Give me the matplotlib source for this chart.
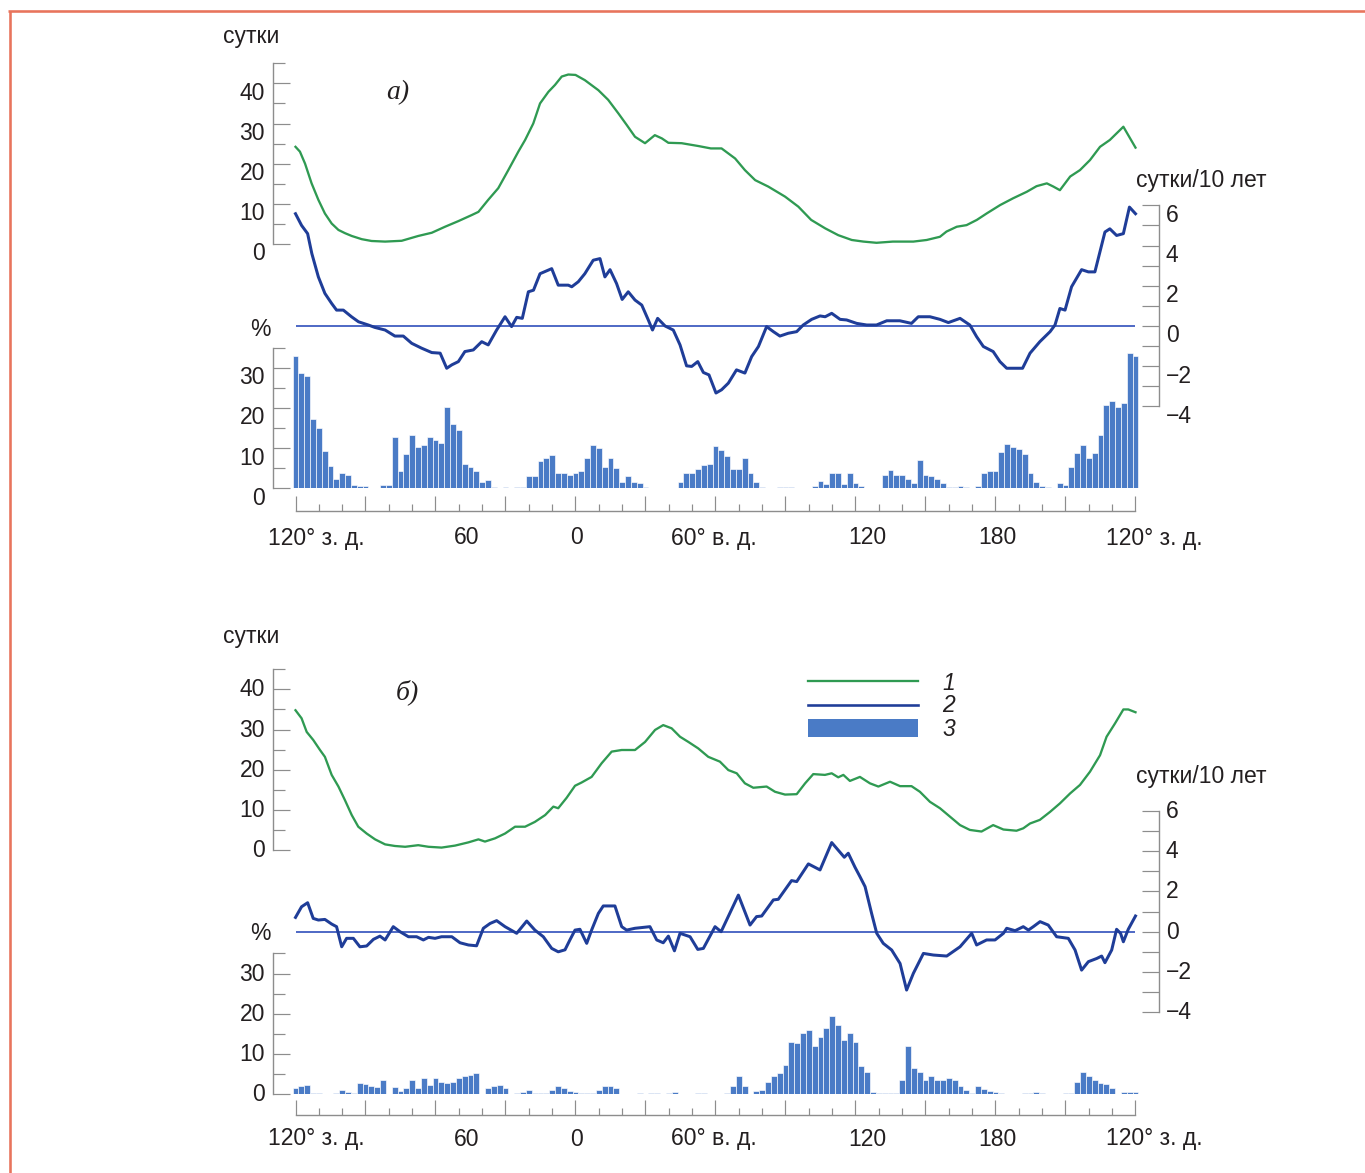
import numpy as np
import matplotlib
matplotlib.use('Agg')
import matplotlib.pyplot as plt
from matplotlib.lines import Line2D
from matplotlib.patches import Rectangle
from matplotlib.transforms import ScaledTranslation, blended_transform_factory

plt.rcParams['font.family'] = ['Liberation Sans', 'DejaVu Sans']

# ---------------- data ----------------
# longitude measured eastward from 120° W (-120) to 120° W again (240)
bar_lon = np.arange(-120, 240.1, 2.5)

green_a_lon = [-120, -118.1, -115.9, -113.1, -110.2, -107.4, -104.5, -101.6, -98.8, -95.9, -91.6, -87.4,
               -81.6, -74.5, -67.4, -61.6, -55.9, -50.2, -44.5, -41.6, -37.4, -33.1, -28.8, -24.5,
               -21.6, -18.1, -15.2, -11.6, -8.8, -5.9, -3.1, 0, 4, 9.8, 14, 18.4, 22, 25.5, 29.8,
               34, 37, 39.8, 45.5, 52.6, 58, 62.6, 68.4, 72.6, 77, 82.6, 89.8, 95.5, 101, 107,
               112.6, 118.4, 123.4, 129, 136, 144.8, 150.5, 156.2, 159, 163.4, 167.6, 172, 176.2,
               182, 187.6, 193.4, 197.6, 202, 204.8, 207.6, 212, 216.2, 220.5, 224.8, 229, 234.8,
               238, 240]
green_a_val = [24.2, 23.0, 20.0, 15.1, 11.0, 7.6, 5.1, 3.5, 2.7, 2.0, 1.2, 0.75,
               0.6, 0.8, 2.0, 2.8, 4.3, 5.7, 7.2, 8.0, 11.0, 13.9, 18.4, 23.0,
               25.9, 30.0, 35.0, 37.9, 39.6, 41.7, 42.2, 42.1, 40.8, 38.3, 35.9, 32.5, 29.6, 26.7, 25.1,
               27.1, 26.3, 25.2, 25.1, 24.4, 23.8, 23.8, 21.3, 18.4, 15.9, 14.3, 11.8, 9.3, 6.0, 3.9,
               2.2, 1.0, 0.6, 0.3, 0.6, 0.6, 1.0, 1.8, 3.1, 4.3, 4.7, 6.0, 7.6,
               9.7, 11.4, 13.0, 14.4, 15.1, 14.3, 13.4, 16.8, 18.4, 20.9, 24.2, 25.9, 29.2,
               26.0, 24.0]

blue_a_lon = [-120, -117.4, -114.8, -113, -110.2, -107.4, -104.5, -102.4, -99.5, -96, -93, -88.8,
              -86, -81.6, -77.4, -73.8, -70.2, -66, -61.6, -58, -55.2, -53, -50.2, -47.4, -43.8,
              -40.2, -37.4, -33.8, -30.2, -27.4, -25.2, -22.8, -20.2, -18, -15.2, -10.2, -7.4, -3.1,
              -1.6, 1.2, 4, 7.6, 10.5, 12.6, 14.8, 17.6, 20, 22.6, 25.5, 28.4, 31.2, 33, 35.2, 38.4,
              41.9, 44.8, 47.6, 49.8, 52.4, 54.8, 57.2, 60.2, 62.6, 65.5, 69, 72.6, 75.5, 78.4,
              81.9, 84.8, 87.6, 91.2, 94.8, 97.6, 101.2, 104.8, 107, 109.8, 113.4, 116.2,
              120.5, 124.8, 129, 133.4, 139, 144, 146.9, 151.9, 156.2, 159.8, 164.8, 169, 171.9,
              174.8, 179, 181.9, 184.8, 189, 191.6, 194.8, 199, 203.4, 205.5, 207.6, 209.8, 212.6,
              216.9, 219.8, 222.6, 226.9, 229, 231.9, 234.8, 237.4, 240]
blue_a_val = [5.58, 5.0, 4.59, 3.6, 2.44, 1.62, 1.12, 0.79, 0.79, 0.46, 0.21, 0.05,
              -0.07, -0.2, -0.5, -0.5, -0.86, -1.1, -1.32, -1.35, -2.1, -1.93, -1.77, -1.27, -1.19,
              -0.78, -0.94, -0.2, 0.46, -0.03, 0.43, 0.38, 1.7, 1.78, 2.6, 2.85, 2.03, 2.03,
              1.95, 2.2, 2.6, 3.27, 3.35, 2.44, 2.8, 2.11, 1.32, 1.7, 1.29, 1.04, 0.3, -0.2, 0.38, 0.0,
              -0.2, -0.94, -1.98, -2.01, -1.77, -2.31, -2.43, -3.33, -3.17, -2.84, -2.18, -2.34, -1.52, -1.02,
              -0.03, -0.28, -0.5, -0.36, -0.28, 0.05, 0.33, 0.5, 0.46, 0.63, 0.33, 0.3,
              0.13, 0.05, 0.05, 0.26, 0.26, 0.13, 0.46, 0.46, 0.33, 0.17, 0.38, 0.05, -0.53,
              -1.02, -1.27, -1.77, -2.1, -2.1, -2.1, -1.35, -0.78, -0.28, 0.05, 0.87, 0.79, 1.95,
              2.8, 2.69, 2.69, 4.67, 4.83, 4.5, 4.59, 5.91, 5.58]

bars_a = [32.9, 28.7, 27.9, 17.3, 14.9, 9.3, 5.5, 2.4, 3.9, 3.4, 0.7, 0.6,
          0.6, 0.1, 0.0, 0.8, 0.8, 12.8, 4.3, 8.6, 13.2, 10.3, 10.7, 12.8,
          12.1, 11.3, 20.2, 15.9, 14.4, 6.1, 5.3, 4.3, 1.6, 2.0, 0.2, 0.0,
          0.2, 0.0, 0.2, 0.2, 3.0, 3.0, 6.7, 7.6, 8.2, 3.8, 3.7, 3.2,
          3.8, 4.3, 7.6, 10.7, 10.0, 5.3, 7.6, 5.1, 1.6, 3.0, 1.6, 1.4,
          0.4, 0.15, 0.0, 0.0, 0.0, 0.1, 1.6, 3.8, 3.7, 4.9, 5.7, 6.0,
          10.5, 9.5, 8.0, 4.9, 4.9, 7.6, 3.7, 1.6, 0.2, 0.0, 0.0, 0.2,
          0.2, 0.2, 0.1, 0.0, 0.05, 0.5, 1.8, 1.0, 3.8, 3.8, 1.0, 3.8,
          1.2, 0.5, 0.1, 0.0, 0.0, 3.2, 4.6, 3.4, 3.4, 2.2, 1.3, 7.1,
          3.4, 3.0, 2.2, 1.3, 0.2, 0.2, 0.5, 0.2, 0.0, 0.5, 3.8, 4.3,
          4.3, 9.0, 11.0, 10.3, 9.9, 8.6, 3.7, 1.6, 0.6, 0.2, 0.0, 1.2,
          0.9, 5.3, 8.8, 10.7, 7.6, 8.8, 13.2, 20.7, 21.7, 20.2, 21.2, 33.7,
          32.9]

green_b_lon = [-120, -117.4, -115.2, -112.4, -109.5, -107.4, -104.5, -101.6, -98.8, -95.9, -93.1, -89.5,
               -85.9, -81.6, -77.4, -73, -67.4, -63, -57.4, -51.6, -45.9, -41.6, -38.8, -34.5, -30.2,
               -25.9, -21.6, -17.4, -13, -9.5, -7.4, -3.8, -0.2, 2.6, 6.9, 11.2, 15.5, 19.8, 25.5,
               29.8, 34.1, 37.6, 41.2, 44.8, 48.4, 52.6, 56.9, 61.9, 65.5, 69.1, 72.6, 76.2, 81.9,
               85.5, 89.8, 94.8, 98.4, 101.9, 106.9, 109.8, 112.6, 114.8, 117.6, 121.9, 126.2, 129.8,
               134.8, 139.1, 144, 147.6, 151.9, 156.2, 160.5, 164.8, 169, 174, 179, 183.4, 189,
               191.9, 194.8, 199, 203.4, 207.6, 212, 216.2, 220.5, 224.8, 227.6, 231.2, 234.8,
               236.9, 240]
green_b_val = [34.8, 32.8, 29.4, 27.4, 24.9, 23.2, 18.7, 15.8, 12.4, 8.7, 5.8, 4.1,
               2.65, 1.4, 1.0, 0.8, 1.2, 0.8, 0.6, 1.1, 1.9, 2.65, 2.1, 2.9, 4.1,
               5.8, 5.8, 7.0, 8.7, 10.8, 10.4, 13.0, 16.0, 16.8, 18.2, 21.6, 24.5, 24.9, 24.9,
               26.9, 29.9, 31.1, 30.3, 28.2, 26.9, 25.3, 23.2, 22.0, 19.9, 19.1, 16.6, 15.5, 15.8,
               14.5, 13.8, 13.9, 16.6, 18.9, 18.7, 19.1, 18.1, 18.7, 17.2, 18.2, 16.6, 15.8,
               17.0, 15.9, 15.9, 14.5, 12.0, 10.4, 8.3, 6.2, 5.0, 4.6, 6.2, 5.1, 4.8,
               5.4, 6.6, 7.5, 9.5, 11.6, 14.1, 16.2, 19.5, 23.6, 28.2, 31.5, 35.0,
               35.0, 34.3]

blue_b_lon = [-120, -117.4, -114.8, -112.4, -110.2, -107.4, -104.5, -102.4, -100.2, -98.1, -95.2, -92.4,
              -89.5, -86.6, -83.8, -81.6, -78.1, -75.2, -71.6, -68.1, -65.2, -63, -60.2, -57.4, -53,
              -49.5, -45.9, -42.4, -39.5, -36.6, -33.8, -30.2, -25.2, -20.9, -17.4, -13.8, -10.2,
              -7.4, -4.5, -2.4, -0.2, 1.9, 4.8, 6.9, 9.8, 11.9, 16.9, 19.8, 21.9, 25.5, 31.9, 34.8,
              37.6, 39.8, 42.4, 44.8, 49.1, 52.4, 54.8, 59.8, 62.4, 69.8, 74.8, 77.6, 79.8, 84.8,
              86.9, 92.6, 94.8, 99.8, 104.8, 109.8, 115.2, 116.9, 119.8, 121.9, 124.1, 126.9,
              129.1, 131.9, 135.5, 139.1, 141.9, 144.8, 149.1, 153.4, 159.1, 164.8, 169.8, 171.9,
              176.2, 179.8, 183.4, 184.8, 188.4, 191.9, 194.1, 196.2, 199.1, 202.6, 206.2, 211.2,
              214.1, 216.9, 219.8, 223.4, 225.5, 226.9, 229.8, 231.9, 233.6, 234.8, 236.9, 240]
blue_b_val = [0.71, 1.24, 1.44, 0.66, 0.58, 0.61, 0.38, 0.25, -0.75, -0.33, -0.33, -0.75,
              -0.71, -0.38, -0.22, -0.41, 0.25, 0.0, -0.25, -0.25, -0.41, -0.28, -0.33, -0.25, -0.25,
              -0.55, -0.66, -0.7, 0.17, 0.41, 0.55, 0.25, -0.08, 0.53, 0.08, -0.25, -0.83,
              -1.0, -0.9, -0.41, 0.08, 0.12, -0.58, 0.08, 0.91, 1.28, 1.28, 0.25, 0.08, 0.17, 0.25, -0.41,
              -0.55, -0.22, -0.95, -0.08, -0.25, -0.88, -0.83, 0.25, 0.0, 1.82, 0.33, 0.75, 0.78, 1.58,
              1.61, 2.54, 2.49, 3.37, 3.07, 4.43, 3.7, 3.9, 3.2, 2.74, 2.24, 0.91,
              -0.08, -0.58, -0.91, -1.58, -2.9, -2.07, -1.08, -1.16, -1.21, -0.75, -0.08, -0.66,
              -0.41, -0.41, -0.08, 0.17, 0.05, 0.25, 0.08, 0.25, 0.5, 0.33, -0.25, -0.33,
              -0.91, -1.91, -1.49, -1.33, -1.21, -1.54, -0.91, 0.12, -0.08, -0.5, 0.12, 0.78]

bars_b = [1.5, 2.1, 2.3, 0.2, 0.2, 0.1, 0.1, 0.2, 1.1, 0.4, 0.3, 2.7,
          2.6, 1.9, 1.7, 3.4, 0.1, 1.7, 0.7, 1.5, 3.4, 1.5, 4.0, 2.3,
          4.0, 2.9, 2.7, 2.9, 4.0, 4.6, 4.8, 5.2, 0.0, 1.5, 1.9, 2.3,
          1.5, 0.1, 0.2, 0.4, 0.9, 0.2, 0.2, 0.3, 1.1, 2.1, 1.5, 0.7,
          0.4, 0.2, 0.3, 0.2, 1.1, 1.9, 1.9, 1.5, 0.1, 0.1, 0.0, 0.2,
          0.1, 0.2, 0.2, 0.1, 0.3, 0.4, 0.1, 0.0, 0.1, 0.2, 0.3, 0.1,
          0.1, 0.0, 0.2, 1.9, 4.4, 2.1, 0.1, 0.7, 1.1, 2.9, 4.4, 5.2,
          7.3, 12.9, 12.7, 15.3, 16.0, 11.9, 14.3, 16.4, 19.5, 17.2, 13.5, 15.3,
          13.0, 7.0, 5.6, 0.4, 0.2, 0.2, 0.2, 0.3, 3.4, 11.9, 6.5, 5.6,
          3.4, 4.4, 3.4, 3.4, 4.0, 3.4, 1.9, 1.1, 0.2, 2.1, 1.2, 0.7,
          0.4, 0.2, 0.1, 0.1, 0.1, 0.2, 0.3, 0.4, 0.2, 0.1, 0.1, 0.1,
          0.2, 0.3, 2.9, 5.6, 4.4, 3.4, 2.7, 2.6, 1.5, 0.1, 0.4, 0.4,
          0.5]

green_ticks = [0, 10, 20, 30, 40]
blue_ticks = [-4, -2, 0, 2, 4, 6]
bar_ticks = [0, 10, 20, 30]
x_labels = ["120° з. д.", "60", "0", "60° в. д.", "120", "180", "120° з. д."]
x_label_pos = [-111.2, -46.5, 0.6, 59.4, 124.9, 180.6, 247.9]
legend_labels = ["1", "2", "3"]

# ---------------- layout helpers ----------------
W, H, DPI = 1365, 1173, 100
fig = plt.figure(figsize=(W / DPI, H / DPI), dpi=DPI)
fig.patch.set_facecolor('white')


def fx(px):
    return px / W


def fy(py):
    return 1 - py / H


def pt(px):
    return px * 72.0 / DPI


GREEN = '#2f9a52'
BLUE = '#1f3d98'
ZERO = '#3f5cc0'
BARC = '#4a7bc6'
GRAY = '#8d8d8d'
TXT = '#231f20'
FS = 16.5

X_LEFT, X_RIGHT = 273, 1159
LON0_PX, LON1_PX = 295.5, 1135.5
PXDEG = (LON1_PX - LON0_PX) / 360.0
XMIN = -120 - (LON0_PX - X_LEFT) / PXDEG
XMAX = 240 + (X_RIGHT - LON1_PX) / PXDEG
GPX = 4.016   # px per unit, day axis and % axis
BPX = 20.12   # px per unit, trend axis


def make_axes(top_px, bottom_px):
    ax = fig.add_axes([fx(X_LEFT), fy(bottom_px), fx(X_RIGHT) - fx(X_LEFT), (bottom_px - top_px) / H])
    ax.set_xlim(XMIN, XMAX)
    ax.patch.set_visible(False)
    for s in ax.spines.values():
        s.set_visible(False)
    ax.set_xticks([])
    ax.tick_params(left=False, right=False, labelleft=False, labelright=False,
                   bottom=False, labelbottom=False)
    return ax


def ylabels(ax, ticks, side, dy, fmt):
    tr = ax.get_yaxis_transform() + ScaledTranslation(0, dy / DPI, fig.dpi_scale_trans)
    if side == 'left':
        xa, ha = (265 - X_LEFT) / (X_RIGHT - X_LEFT), 'right'
    else:
        xa, ha = (1166 - X_LEFT) / (X_RIGHT - X_LEFT), 'left'
    for t in ticks:
        ax.text(xa, t, fmt(t), transform=tr, ha=ha, va='center', fontsize=FS, color=TXT)


def style_yaxis(ax, side, major, minor, lmaj, lmin, lo, hi):
    ax.spines[side].set_visible(True)
    ax.spines[side].set_color(GRAY)
    ax.spines[side].set_linewidth(pt(1.4))
    ax.spines[side].set_bounds(lo, hi)
    ax.set_yticks(major)
    ax.set_yticks(minor, minor=True)
    kw = dict(direction='in', color=GRAY, width=pt(1.2),
              left=(side == 'left'), right=(side == 'right'),
              labelleft=False, labelright=False)
    ax.tick_params(axis='y', which='major', length=pt(lmaj), **kw)
    ax.tick_params(axis='y', which='minor', length=pt(lmin), **kw)


def fmt_int(v):
    return str(v) if v >= 0 else '\u2212' + str(-v)


def panel(g0, b0, h0, xaxis_px, dy, gl, gv, bl, bv, bars, title, title_xy,
          lab_sut, lab_pct, lab_trend, xlab_y):
    # bars (% axis)
    axh = make_axes(h0 - 35 * GPX, h0)
    axh.set_ylim(0, 35)
    axh.bar(bar_lon, bars, width=2.5, color=BARC, edgecolor='white', linewidth=0.45, zorder=2)
    style_yaxis(axh, 'left', bar_ticks, [5, 15, 25, 35], 17, 12, 0, 35)
    ylabels(axh, bar_ticks, 'left', dy, fmt_int)
    axh.spines['bottom'].set_visible(True)
    axh.spines['bottom'].set_color(GRAY)
    axh.spines['bottom'].set_linewidth(pt(1.4))
    axh.spines['bottom'].set_position(('outward', pt(xaxis_px - h0)))
    axh.spines['bottom'].set_bounds(bar_lon[0], bar_lon[-1])
    axh.set_xticks(np.arange(bar_lon[0], bar_lon[-1] + 1, 30))
    axh.set_xticks(np.arange(bar_lon[0], bar_lon[-1] + 1, 10), minor=True)
    axh.tick_params(axis='x', which='major', direction='in', length=pt(14.7), width=pt(1.2),
                    color=GRAY, bottom=True, labelbottom=False)
    axh.tick_params(axis='x', which='minor', direction='in', length=pt(6.7), width=pt(1.2),
                    color=GRAY, bottom=True, labelbottom=False)
    trx = blended_transform_factory(axh.transData, fig.transFigure)
    for lab, lon in zip(x_labels, x_label_pos):
        axh.text(lon, fy(xlab_y), lab, transform=trx, ha='center', va='center',
                 fontsize=FS, color=TXT)

    # green (days)
    axg = make_axes(g0 - 45 * GPX, g0)
    axg.set_ylim(0, 45)
    axg.plot(gl, gv, color=GREEN, lw=pt(2.3), solid_joinstyle='round', zorder=3)
    style_yaxis(axg, 'left', green_ticks, [5, 15, 25, 35, 45], 17, 12, 0, 45)
    ylabels(axg, green_ticks, 'left', dy, fmt_int)

    # blue (trend)
    axb = make_axes(b0 - 6 * BPX, b0 + 4 * BPX)
    axb.set_ylim(-4, 6)
    axb.hlines(0, bar_lon[0], bar_lon[-1], color=ZERO, lw=pt(1.8), zorder=2)
    axb.plot(bl, bv, color=BLUE, lw=pt(3.0), solid_joinstyle='round', zorder=3)
    style_yaxis(axb, 'right', blue_ticks, [-3, -1, 1, 3, 5], 17, 17, -4, 6)
    ylabels(axb, blue_ticks, 'right', dy, fmt_int)

    fig.text(fx(title_xy[0]), fy(title_xy[1]), title, fontsize=20, style='italic',
             family=['Liberation Serif', 'DejaVu Serif'], ha='center', va='center', color=TXT)
    fig.text(fx(lab_sut[0]), fy(lab_sut[1]), 'сутки', fontsize=FS, ha='center', va='center', color=TXT)
    fig.text(fx(lab_pct[0]), fy(lab_pct[1]), '%', fontsize=FS, ha='center', va='center', color=TXT)
    fig.text(fx(lab_trend[0]), fy(lab_trend[1]), 'сутки/10 лет', fontsize=FS, ha='center',
             va='center', color=TXT)


panel(244, 326, 488.3, 511, -10.0, green_a_lon, green_a_val, blue_a_lon, blue_a_val, bars_a,
      'а)', (398, 93), (251, 36), (260, 329), (1201, 181), 538)
panel(850, 931.7, 1094, 1115, -0.5, green_b_lon, green_b_val, blue_b_lon, blue_b_val, bars_b,
      'б)', (407, 692), (251, 637), (260, 933), (1201, 776), 1139)

# legend (panel б)
fig.add_artist(Line2D([fx(808), fx(918)], [fy(681), fy(681)], color=GREEN, lw=pt(2.3)))
fig.add_artist(Line2D([fx(808), fx(918)], [fy(704.5), fy(704.5)], color=BLUE, lw=pt(2.6)))
fig.add_artist(Rectangle((fx(808), fy(737)), fx(918) - fx(808), (737 - 719) / H,
                         transform=fig.transFigure, facecolor=BARC, edgecolor='none'))
for lab, yy in zip(legend_labels, [683, 706, 729]):
    fig.text(fx(949), fy(yy), lab, fontsize=FS, style='italic', ha='center', va='center', color=TXT)

# orange frame
FRAME = '#e8745c'
fig.add_artist(Line2D([fx(9.5), fx(9.5)], [0, fy(11)], color=FRAME, lw=pt(2.6),
                      solid_capstyle='butt'))
fig.add_artist(Line2D([fx(8.2), 1], [fy(11), fy(11)], color=FRAME, lw=pt(2.6),
                      solid_capstyle='butt'))

fig.savefig('out.png', dpi=DPI)
